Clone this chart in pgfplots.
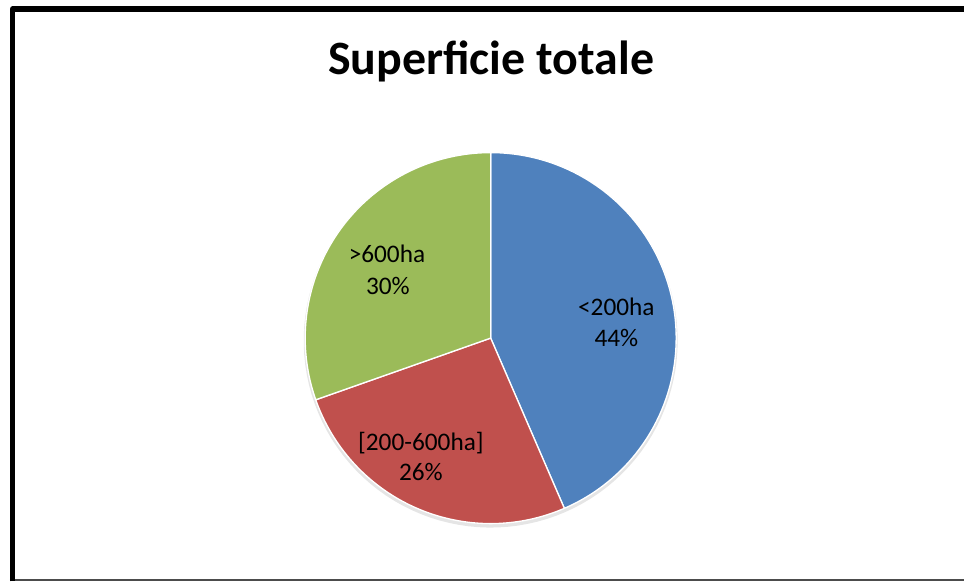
\documentclass[border=0pt]{standalone}
\usepackage{pgfplots}
\pgfplotsset{compat=1.18}
\usepackage{fontspec}
\setmainfont{Carlito}
\definecolor{pieblue}{HTML}{4F81BD}
\definecolor{piered}{HTML}{C0504D}
\definecolor{piegreen}{HTML}{9BBB59}
\begin{document}
\begin{tikzpicture}
\begin{axis}[
  scale only axis, width=725.25pt, height=437.25pt,
  xmin=0, xmax=967, ymin=0, ymax=583, y dir=reverse,
  hide axis, clip=false,
]
\fill[white] (rel axis cs:0,0) rectangle (rel axis cs:1,1);
% shares (labels rounded): <200ha 43.5 %, [200-600ha] 26.1 %, >600ha 30.4 %  (start at 90 deg, clockwise)
% soft shadow under the pie
\addplot[fill=black, fill opacity=0.10, draw=none, domain=0:360, samples=120, variable=\t]
  ({492+187.5*cos(\t)},{341.5-187.5*sin(\t)}) -- cycle;
% <200ha : 43.5 % -> from 90-3.6*43.5 = -66.6 to 90
\addplot[fill=pieblue, draw=white, line width=1pt, line join=round, domain=-66.6:90, samples=150, variable=\t]
  ({492+186*cos(\t)},{339-186*sin(\t)}) -- (axis cs:492,339) -- cycle;
% [200-600ha] : 26.1 % -> from 199.44 to 293.4
\addplot[fill=piered, draw=white, line width=1pt, line join=round, domain=199.44:293.4, samples=100, variable=\t]
  ({492+186*cos(\t)},{339-186*sin(\t)}) -- (axis cs:492,339) -- cycle;
% >600ha : 30.4 % -> from 90 to 199.44
\addplot[fill=piegreen, draw=white, line width=1pt, line join=round, domain=90:199.44, samples=100, variable=\t]
  ({492+186*cos(\t)},{339-186*sin(\t)}) -- (axis cs:492,339) -- cycle;

\node[anchor=base, font=\fontsize{36}{43}\selectfont\bfseries] at (axis cs:492.5,75) {Superficie totale};

\node[anchor=base, font=\fontsize{19}{23}\selectfont] at (axis cs:618,316) {<200ha};
\node[anchor=base, font=\fontsize{19}{23}\selectfont] at (axis cs:618,347) {44\%};
\node[anchor=base, font=\fontsize{19}{23}\selectfont] at (axis cs:388,263) {>600ha};
\node[anchor=base, font=\fontsize{19}{23}\selectfont] at (axis cs:389,295) {30\%};
\node[anchor=base, font=\fontsize{19}{23}\selectfont] at (axis cs:422,452) {[200-600ha]};
\node[anchor=base, font=\fontsize{19}{23}\selectfont] at (axis cs:422,482) {26\%};

\draw[black!70, line width=1.2pt] (axis cs:10,581.7) -- (axis cs:967,581.7);
\draw[black, line width=3.9pt, line join=round] (axis cs:12.6,583) -- (axis cs:12.6,9) -- (axis cs:967,9);
\end{axis}
\end{tikzpicture}
\end{document}
